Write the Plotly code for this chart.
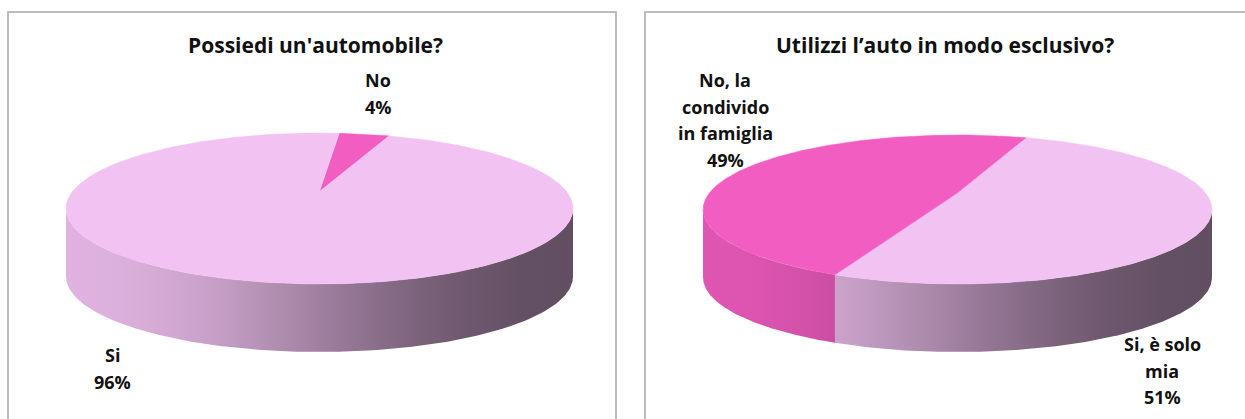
import numpy as np
import plotly.graph_objects as go

# ---------------- data ----------------
q1_title = "Possiedi un'automobile?"
q1_labels = ["No", "Si"]
q1_values = [4, 96]

q2_title = "Utilizzi l’auto in modo esclusivo?"
q2_labels = ["Si, è solo<br>mia", "No, la<br>condivido<br>in famiglia"]
q2_values = [51, 49]

# ---------------- style / layout ----------------
W, H = 1245, 419
PINK = (242, 194, 242)
MAGENTA = (242, 93, 194)
q1_colors = [MAGENTA, PINK]
q2_colors = [PINK, MAGENTA]
FONT = "Open Sans"

ALPHA = np.radians(20.0)
DIST = 4.2

pies = [
    dict(labels=q1_labels, values=q1_values, colors=q1_colors, start=5.5,
         x0=66, x1=573, ytop=133, ybot=284, depth=68,
         title=q1_title, tx=315, ty=45,
         lab_pos=[(378, 80), (112, 355)],
         box=(8, 616)),
    dict(labels=q2_labels, values=q2_values, colors=q2_colors, start=19.5,
         x0=703, x1=1212, ytop=135, ybot=284, depth=68,
         title=q2_title, tx=945, ty=45,
         lab_pos=[(1162, 344), (725, 80)],
         box=(645, 1252)),
]


def raw(theta_deg):
    t = np.radians(theta_deg)
    X, Z = np.sin(t), np.cos(t)
    depth = DIST + Z * np.cos(ALPHA)
    return X / depth, Z * np.sin(ALPHA) / depth


def make_proj(p):
    sx, sy = raw(np.linspace(0, 360, 3601))
    sxmin, sxmax, symin, symax = sx.min(), sx.max(), sy.min(), sy.max()

    def proj(theta_deg, down=0.0):
        a, b = raw(np.asarray(theta_deg, dtype=float))
        px = p["x0"] + (a - sxmin) / (sxmax - sxmin) * (p["x1"] - p["x0"])
        py = p["ytop"] + (symax - b) / (symax - symin) * (p["ybot"] - p["ytop"]) + down
        return px, py

    cx = p["x0"] + (0 - sxmin) / (sxmax - sxmin) * (p["x1"] - p["x0"])
    cy = p["ytop"] + (symax - 0) / (symax - symin) * (p["ybot"] - p["ytop"])
    tl = np.degrees(np.arccos(-np.cos(ALPHA) / DIST))
    return proj, (cx, cy), (tl, 360 - tl)


def shade(p):
    return 0.66 + 0.26 * np.cos(np.pi * p)


def rgb(c, f=1.0):
    return "rgb(%d,%d,%d)" % tuple(int(round(v * f)) for v in c)


fig = go.Figure()

for p in pies:
    proj, (cx, cy), (vis_a, vis_b) = make_proj(p)
    total = float(sum(p["values"]))
    bounds = [p["start"]]
    for v in p["values"]:
        bounds.append(bounds[-1] + 360.0 * v / total)

    # sides
    for i, col in enumerate(p["colors"]):
        a, b = bounds[i], bounds[i + 1]
        for off in (0, 360, -360):
            lo, hi = max(a, vis_a + off), min(b, vis_b + off)
            if hi <= lo:
                continue
            th = np.linspace(lo, hi, 200)
            xt, yt = proj(th)
            xb, yb = proj(th[::-1], p["depth"])
            xs = np.concatenate([xt, xb, xt[:1]])
            ys = np.concatenate([yt, yb, yt[:1]])
            stops = np.linspace(0, 1, 11)
            cs = [[float(s), rgb(col, shade(s))] for s in stops]
            fig.add_trace(go.Scatter(
                x=xs, y=ys, mode="lines", fill="toself",
                line=dict(width=0, color=rgb(col)),
                fillgradient=dict(type="horizontal", colorscale=cs,
                                  start=p["x0"], stop=p["x1"]),
                hoverinfo="skip", showlegend=False))

    # top faces
    for i, col in enumerate(p["colors"]):
        a, b = bounds[i], bounds[i + 1]
        th = np.linspace(a, b, 400)
        xt, yt = proj(th)
        xs = np.concatenate([[cx], xt, [cx]])
        ys = np.concatenate([[cy], yt, [cy]])
        fig.add_trace(go.Scatter(
            x=xs, y=ys, mode="lines", fill="toself",
            fillcolor=rgb(col), line=dict(width=0.5, color=rgb(col)),
            hoverinfo="skip", showlegend=False))

    # labels
    for (lx, ly), lab, v in zip(p["lab_pos"], p["labels"], p["values"]):
        lines = lab.split("<br>") + ["%d%%" % v]
        for k, ln in enumerate(lines):
            fig.add_annotation(x=lx, y=ly + k * 26.5, text="<b>%s</b>" % ln,
                               showarrow=False, xanchor="center", yanchor="middle",
                               font=dict(family=FONT, size=18, color="#111111"))

    # title
    fig.add_annotation(x=p["tx"], y=p["ty"], text="<b>%s</b>" % p["title"],
                       showarrow=False, xanchor="center", yanchor="middle",
                       font=dict(family=FONT, size=21, color="#111111"))

    # panel frame
    fig.add_shape(type="rect", x0=p["box"][0], x1=p["box"][1], y0=12, y1=440,
                  line=dict(color="#BDBDBD", width=2), layer="below")

fig.update_layout(
    width=W, height=H, margin=dict(l=0, r=0, t=0, b=0),
    paper_bgcolor="white", plot_bgcolor="white",
    xaxis=dict(range=[0, W], visible=False, fixedrange=True),
    yaxis=dict(range=[H, 0], visible=False, fixedrange=True),
)

fig.write_html("out.html")
